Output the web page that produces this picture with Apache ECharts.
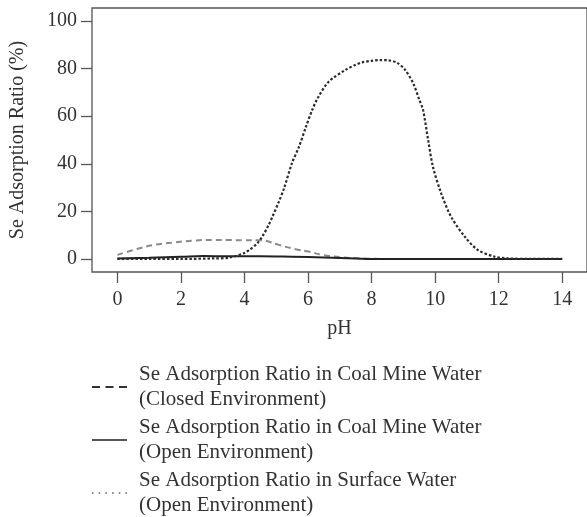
<!DOCTYPE html>
<html lang="en">
<head>
<meta charset="UTF-8">
<title>Se Adsorption Ratio vs pH</title>
<style>
    html, body { margin: 0; padding: 0; background: #fff; }
    #chart { width: 587px; height: 517px; }
</style>
</head>
<body>
<div id="chart"></div>
<script src="https://cdn.jsdelivr.net/npm/echarts@6/dist/echarts.min.js"></script>
<script>
// values (pH, adsorption %)
var closedPh = [0, 0.7, 1.2, 1.75, 2.4, 3.0, 3.5, 4.0, 4.46, 4.67, 5.08, 5.6, 6.02, 6.44, 7.06, 7.7, 8.5, 10, 12, 14];
var closedCoal = [1.7, 4.5, 6.0, 6.9, 7.7, 8.0, 8.0, 7.8, 7.9, 7.6, 5.9, 4.1, 3.1, 1.7, 0.7, 0.2, 0, 0, 0, 0];

var openPh = [0, 1, 2, 2.7, 3.5, 4.5, 5.5, 6.5, 7.5, 8, 10, 12, 14];
var openCoal = [0.2, 0.5, 0.9, 1.2, 1.1, 1.1, 0.9, 0.6, 0.2, 0, 0, 0, 0];

var surfacePh = [0, 1, 2, 3, 3.5, 4.0, 4.15, 4.4, 4.56, 4.75, 4.88, 5.08, 5.24, 5.5, 5.71, 5.92, 6.13, 6.3, 6.65,
    7.17, 7.48, 7.69, 8.0, 8.27, 8.53, 8.8, 9.05, 9.31, 9.5, 9.62, 9.78, 9.93, 10.19, 10.5, 10.93, 11.34, 11.86, 12.2, 13, 14];
var surfaceWater = [0, 0, 0, 0.2, 0.5, 2.5, 3.8, 6.5, 9.4, 14, 17.8, 24, 29.5, 40.5, 47, 55, 62.6, 67.5, 74.5,
    79.4, 81.5, 82.6, 83.3, 83.6, 83.5, 82.5, 79.6, 73.8, 67, 62.6, 50, 38.8, 27.6, 17.8, 9.4, 3.8, 1, 0.3, 0, 0];

var xTicks = [0, 2, 4, 6, 8, 10, 12, 14];
var yTicks = [0, 20, 40, 60, 80, 100];

var seriesNames = [
    'Se Adsorption Ratio in Coal Mine Water (Closed Environment)',
    'Se Adsorption Ratio in Coal Mine Water (Open Environment)',
    'Se Adsorption Ratio in Surface Water (Open Environment)'
];

function pairs(xs, ys) {
    var out = [];
    for (var i = 0; i < xs.length; i++) {
        out.push([xs[i], ys[i]]);
    }
    return out;
}

var font = 'Liberation Serif';
var textColor = '#333';

var chart = echarts.init(document.getElementById('chart'));
var option = {
    backgroundColor: '#fff',
    animation: false,
    grid: {
        left: 92,
        top: 8,
        right: -3,
        bottom: 245,
        show: true,
        borderColor: '#555',
        borderWidth: 1.3,
        containLabel: false
    },
    xAxis: {
        type: 'value',
        min: -0.8,
        max: 14.78,
        name: 'pH',
        nameLocation: 'middle',
        nameGap: 47,
        nameTextStyle: { fontFamily: font, fontSize: 20, color: textColor },
        axisLine: { show: false, onZero: false },
        splitLine: { show: false },
        axisTick: {
            show: true,
            inside: false,
            length: 11,
            customValues: xTicks,
            lineStyle: { color: '#555', width: 1.3 }
        },
        axisLabel: {
            customValues: xTicks,
            margin: 18,
            fontFamily: font,
            fontSize: 20,
            color: textColor
        }
    },
    yAxis: {
        type: 'value',
        min: -5.5,
        max: 105.5,
        name: 'Se Adsorption Ratio (%)',
        nameLocation: 'middle',
        nameGap: 64,
        nameTextStyle: { fontFamily: font, fontSize: 20, color: textColor },
        axisLine: { show: false, onZero: false },
        splitLine: { show: false },
        axisTick: {
            show: true,
            inside: false,
            length: 11,
            customValues: yTicks,
            lineStyle: { color: '#555', width: 1.3 }
        },
        axisLabel: {
            customValues: yTicks,
            margin: 15,
            fontFamily: font,
            fontSize: 20,
            color: textColor
        }
    },
    legend: {
        orient: 'vertical',
        left: 92,
        top: 362,
        height: 160,
        padding: 0,
        itemWidth: 35,
        itemHeight: 2,
        itemGap: 3,
        textStyle: {
            fontFamily: font,
            fontSize: 21,
            lineHeight: 25,
            color: textColor,
            padding: [0, 0, 0, 7]
        },
        formatter: function (name) {
            return name.replace(' (', '\n(');
        },
        data: [
            {
                name: seriesNames[0],
                icon: 'path://M0 0H8V2H0Z M13.5 0H21.5V2H13.5Z M27 0H35V2H27Z',
                itemStyle: { color: '#333' }
            },
            {
                name: seriesNames[1],
                icon: 'path://M0 0H35V2H0Z',
                itemStyle: { color: '#555' }
            },
            {
                name: seriesNames[2],
                icon: 'path://M0 0H1.5V2H0Z M6.7 0H8.2V2H6.7Z M13.4 0H14.9V2H13.4Z M20.1 0H21.6V2H20.1Z M26.8 0H28.3V2H26.8Z M33.5 0H35V2H33.5Z',
                itemStyle: { color: '#888' }
            }
        ]
    },
    series: [
        {
            name: seriesNames[0],
            type: 'line',
            data: pairs(closedPh, closedCoal),
            smooth: 0.4,
            symbol: 'none',
            color: '#8a8a8a',
            lineStyle: { color: '#8a8a8a', width: 2, type: [6, 4] },
            z: 2
        },
        {
            name: seriesNames[1],
            type: 'line',
            data: pairs(openPh, openCoal),
            smooth: 0.4,
            symbol: 'none',
            color: '#222',
            lineStyle: { color: '#222', width: 2, type: 'solid' },
            z: 3
        },
        {
            name: seriesNames[2],
            type: 'line',
            data: pairs(surfacePh, surfaceWater),
            smooth: 0.3,
            symbol: 'none',
            color: '#2b2b2b',
            lineStyle: { color: '#2b2b2b', width: 2.2, type: [2.5, 2] },
            z: 4
        }
    ]
};
chart.setOption(option);
</script>
</body>
</html>
